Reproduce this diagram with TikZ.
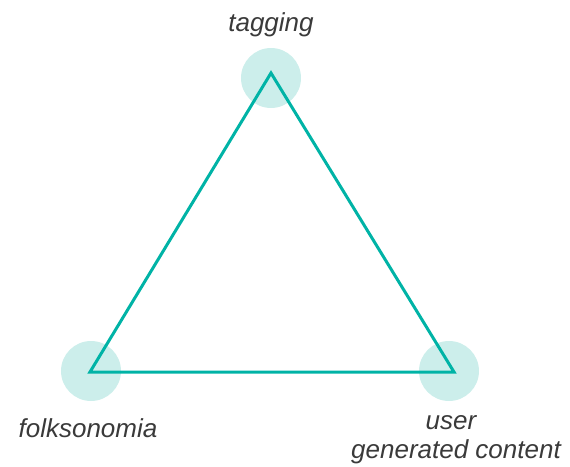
\documentclass[tikz,border=0pt]{standalone}
\usepackage{fontspec}
\setmainfont{Liberation Sans}
\definecolor{tealline}{HTML}{00B3A6}
\definecolor{tealhalo}{HTML}{CCEEEB}
\definecolor{labelgray}{HTML}{3A3A3A}
\tikzset{
  halo/.style={circle, fill=tealhalo, minimum size=30pt, inner sep=0pt},
  lbl/.style={anchor=base, text=labelgray, font=\fontsize{13}{15}\selectfont\itshape}
}
\begin{document}
\begin{tikzpicture}[x=0.5pt, y=-0.5pt]
  \useasboundingbox (0,0) rectangle (570,467);
  \node[halo] (tagh) at (271,78) {};
  \node[halo] (folkh) at (91,371) {};
  \node[halo] (ugch) at (449,371) {};
  \coordinate (tag) at (271,73);
  \coordinate (folk) at (90,372);
  \coordinate (ugc) at (454,372);
  \draw[tealline, line width=1.5pt, line join=miter] (tag) -- (ugc) -- (folk) -- cycle;
  \node[lbl] (taglbl) at (271,31) {tagging};
  \node[lbl] (folklbl) at (88,437) {folksonomia};
  \node[lbl] (ugclbl1) at (451,429) {user};
  \node[lbl] (ugclbl2) at (456,458) {generated content};
\end{tikzpicture}
\end{document}
